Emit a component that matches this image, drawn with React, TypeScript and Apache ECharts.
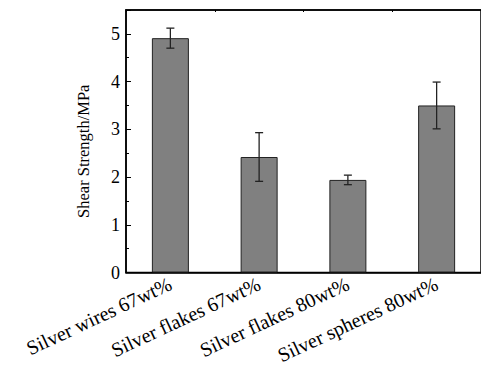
import React, { useEffect, useRef } from "react";
import * as echarts from "echarts";

const categories = [
  "Silver wires 67wt%",
  "Silver flakes 67wt%",
  "Silver flakes 80wt%",
  "Silver spheres 80wt%",
];
const strengthValues = [4.91, 2.42, 1.94, 3.5];
const errorValues = [0.21, 0.51, 0.1, 0.49];
const yTicks = { min: 0, max: 5.5, interval: 1 };

const FONT = "'Liberation Serif', 'Times New Roman', serif";

export default function App() {
  const ref = useRef<HTMLDivElement>(null);
  useEffect(() => {
    if (!ref.current) return;
    const chart = echarts.init(ref.current, undefined, { renderer: "svg" });
    const errData = strengthValues.map((v, i) => [i, v - errorValues[i], v + errorValues[i]]);
    chart.setOption({
      animation: false,
      backgroundColor: "#ffffff",
      grid: {
        left: 126,
        top: 10,
        width: 363,
        height: 262.5,
        containLabel: false,
        show: true,
        borderColor: "#000",
        borderWidth: 1.5,
      },
      xAxis: [
        {
          type: "category",
          data: categories,
          position: "bottom",
          axisLine: { show: true, onZero: false, lineStyle: { color: "#000", width: 1.5 } },
          axisTick: { show: true, inside: true, alignWithLabel: true, length: 5, lineStyle: { color: "#000" } },
          axisLabel: {
            rotate: 25,
            margin: 10,
            fontFamily: FONT,
            fontSize: 20,
            color: "#000",
            interval: 0,
          },
          splitLine: { show: false },
        },
        {
          type: "category",
          data: categories,
          position: "top",
          axisLine: { show: true, onZero: false, lineStyle: { color: "#000", width: 1.5 } },
          axisTick: { show: true, inside: true, alignWithLabel: false, interval: 0, length: 2, lineStyle: { color: "#000" } },
          axisLabel: { show: false },
          splitLine: { show: false },
        },
      ],
      yAxis: [
        {
          type: "value",
          min: yTicks.min,
          max: yTicks.max,
          interval: yTicks.interval,
          name: "Shear Strength/MPa",
          nameLocation: "middle",
          nameGap: 34,
          nameTextStyle: { fontFamily: FONT, fontSize: 16.5, color: "#000", padding: [0, 20, 0, 0] },
          axisLine: { show: true, onZero: false, lineStyle: { color: "#000", width: 1.5 } },
          axisTick: { show: true, inside: true, length: 5, lineStyle: { color: "#000" } },
          minorTick: { show: true, splitNumber: 2, length: 3, lineStyle: { color: "#000" } },
          axisLabel: { fontFamily: FONT, fontSize: 18, color: "#000", margin: 6, showMaxLabel: false },
          splitLine: { show: false },
          minorSplitLine: { show: false },
        },
      ],
      series: [
        {
          type: "bar",
          xAxisIndex: 0,
          data: strengthValues,
          barWidth: 37,
          itemStyle: { color: "#808080", borderColor: "#222", borderWidth: 1 },
        },
        {
          type: "custom",
          xAxisIndex: 0,
          data: errData,
          z: 10,
          renderItem: (params: any, api: any) => {
            const x = api.value(0);
            const lo = api.coord([x, api.value(1)]);
            const hi = api.coord([x, api.value(2)]);
            const cw = 4;
            const style = { stroke: "#222", lineWidth: 1.3 };
            return {
              type: "group",
              children: [
                { type: "line", shape: { x1: hi[0], y1: hi[1], x2: lo[0], y2: lo[1] }, style },
                { type: "line", shape: { x1: hi[0] - cw, y1: hi[1], x2: hi[0] + cw, y2: hi[1] }, style },
                { type: "line", shape: { x1: lo[0] - cw, y1: lo[1], x2: lo[0] + cw, y2: lo[1] }, style },
              ],
            };
          },
        },
      ],
    });
    return () => chart.dispose();
  }, []);
  return (
    <div
      ref={ref}
      style={{ position: "fixed", left: 0, top: 0, width: 481, height: 367, background: "#fff" }}
    />
  );
}
